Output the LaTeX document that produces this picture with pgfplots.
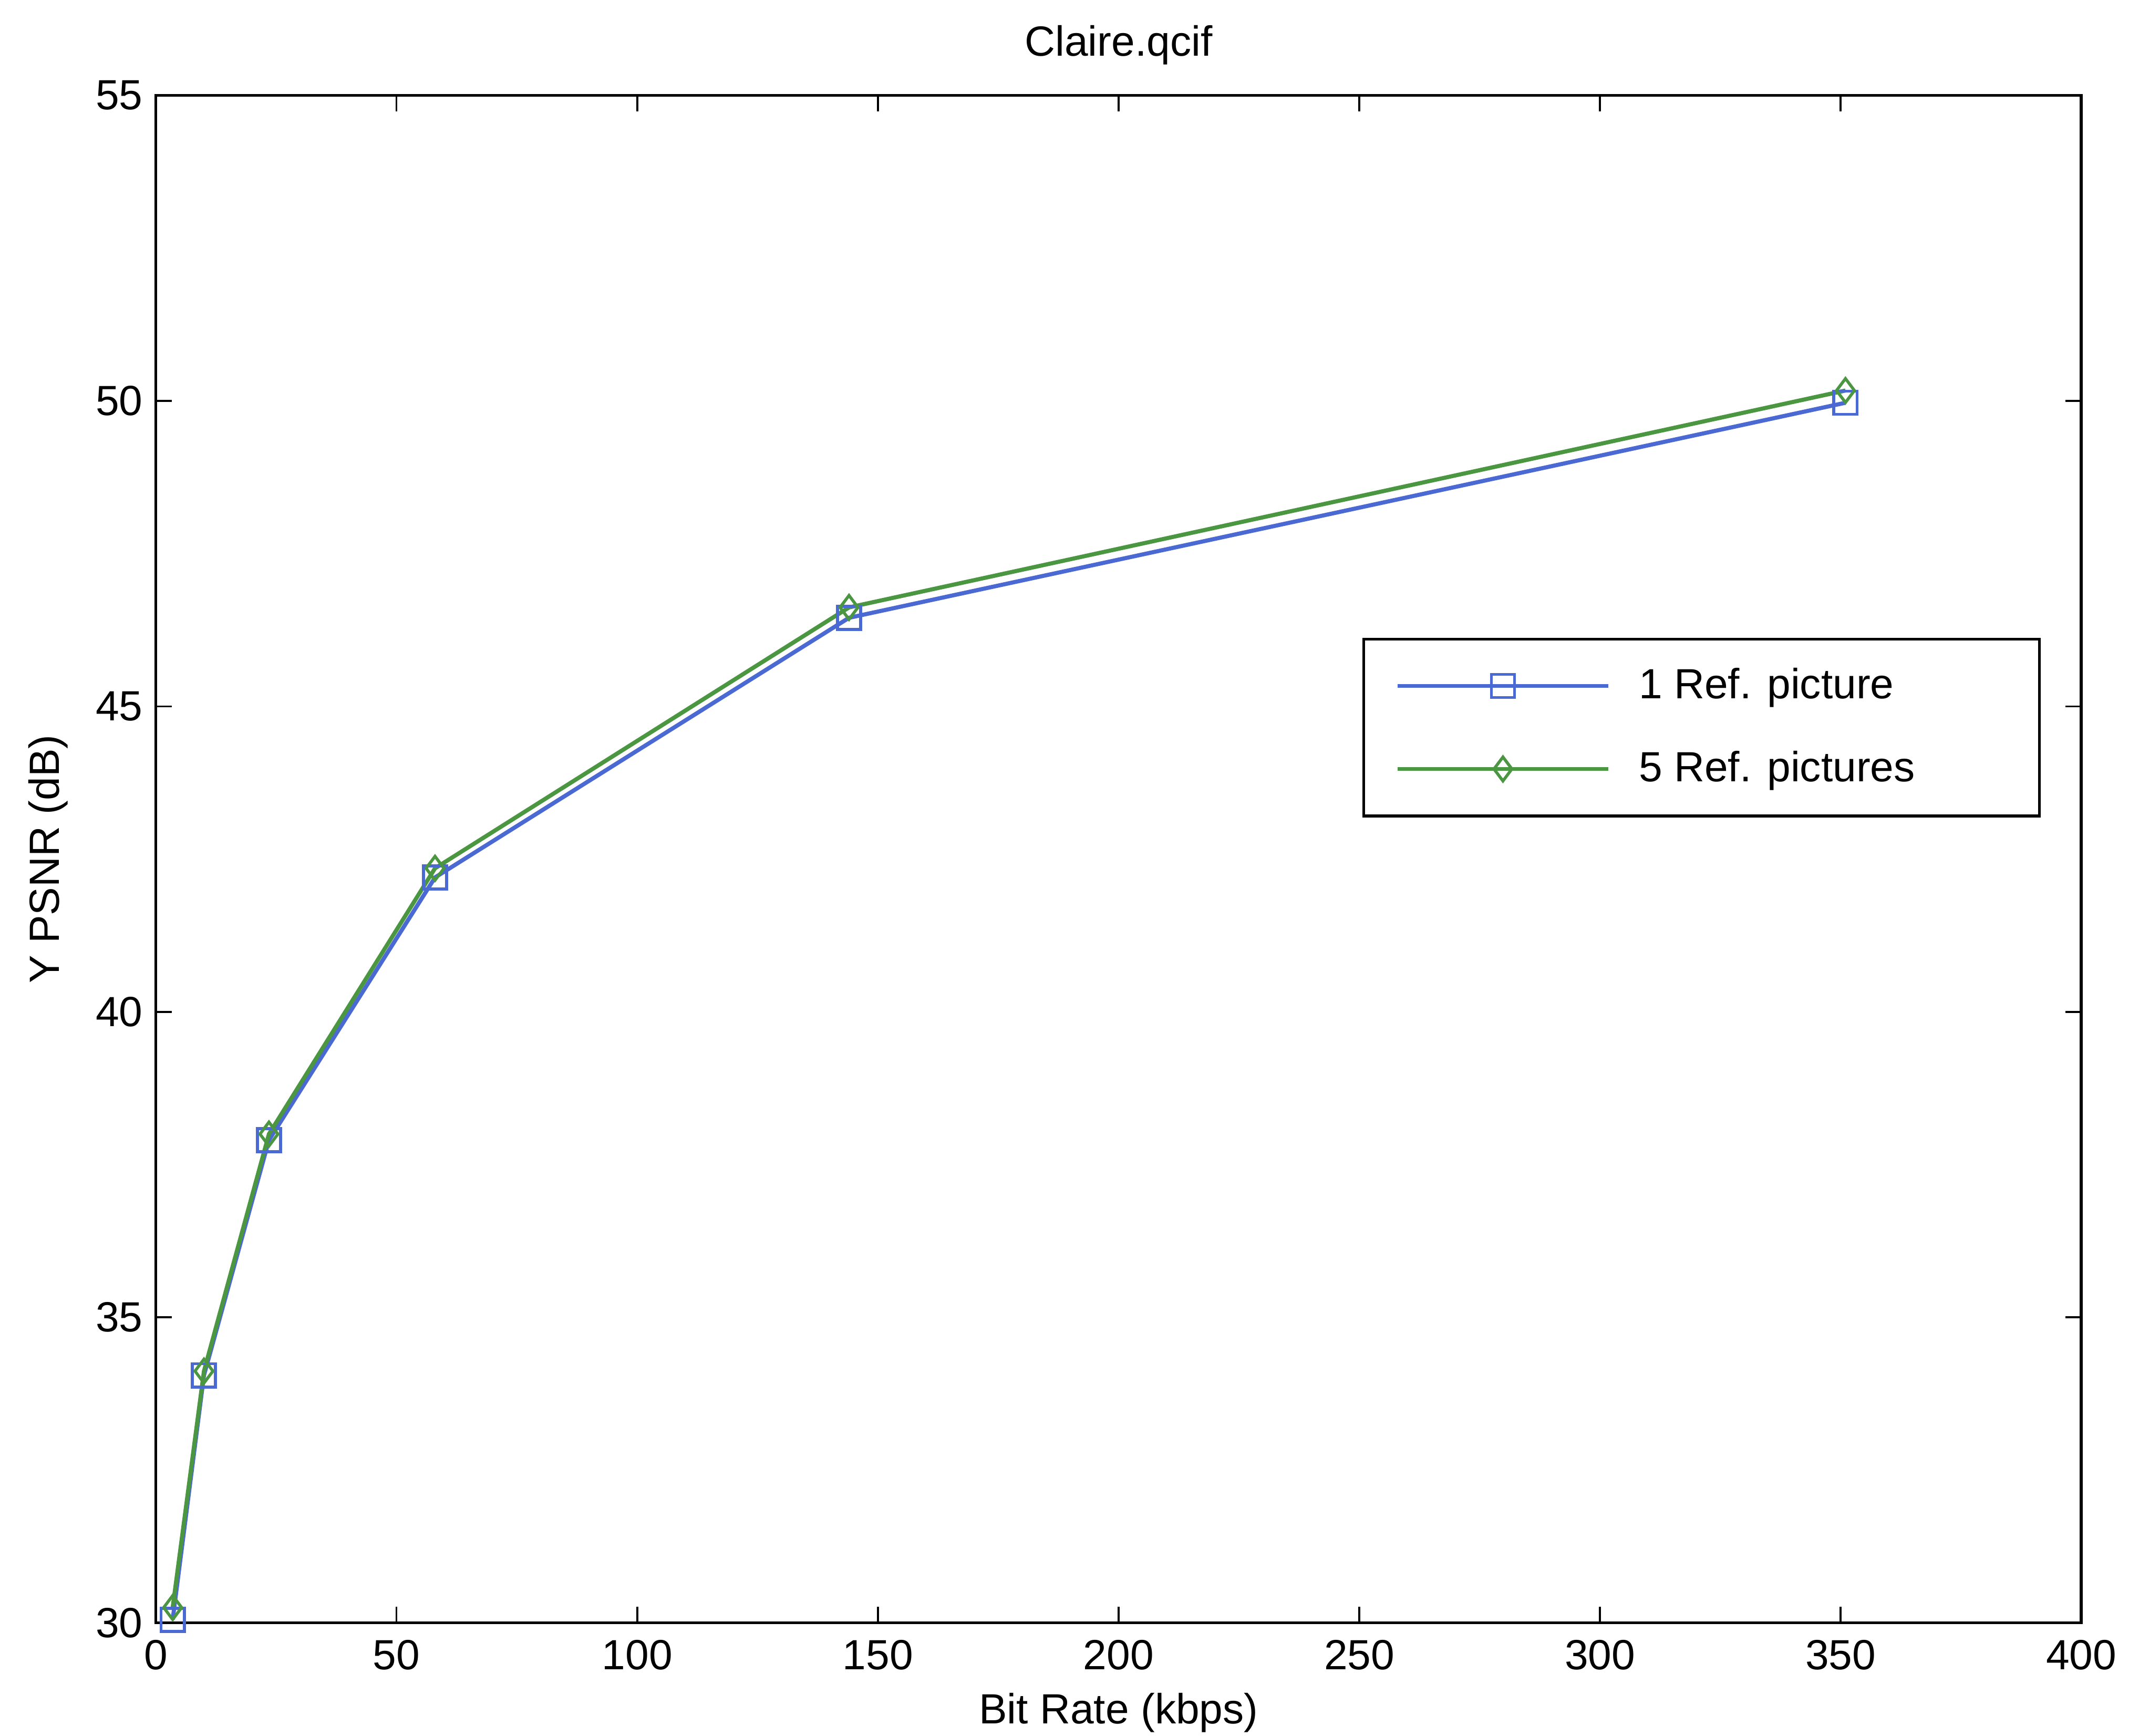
\documentclass[border=0pt]{standalone}
\usepackage{fontspec}
\setmainfont{Liberation Sans}
\usepackage{pgfplots}
\pgfplotsset{compat=1.18}
\definecolor{lblue}{RGB}{75,105,210}
\definecolor{lgreen}{RGB}{75,150,65}
\begin{document}
\begin{tikzpicture}
\path (-1.466cm,-1.061cm) rectangle (18.535cm,15.267cm);
\begin{axis}[
  at={(0,0)}, anchor=south west,
  width=18.115cm, height=14.369cm, scale only axis,
  xmin=0, xmax=400, ymin=30, ymax=55,
  xtick={0,50,...,400}, ytick={30,35,...,55},
  tick align=inside, major tick length=0.15cm,
  tick style={black, line width=0.5pt},
  axis line style={black, line width=0.8pt},
  font=\fontsize{11.3}{13.5}\selectfont,
  /pgf/number format/assume math mode=true,
  xticklabel style={yshift=-0.04cm},
  title={Claire.qcif},
  title style={at={(axis description cs:0.5,1)}, anchor=base, yshift=0.16cm},
  xlabel={Bit Rate (kbps)},
  xlabel style={at={(axis description cs:0.5,0)}, anchor=base, yshift=-0.95cm, inner sep=0pt},
  ylabel={Y PSNR (dB)},
  ylabel style={at={(axis description cs:-0.0502,0.5)}, anchor=base},
  legend cell align=left,
  legend style={at={(0.979,0.645)}, anchor=north east, draw=black, line width=0.8pt,
    inner xsep=0.3cm, inner ysep=0.2cm, row sep=0.3cm, column sep=0.2cm,
    font=\fontsize{11.3}{13.5}\selectfont},
  legend image code/.code={\draw[mark repeat=2,mark phase=2] plot coordinates {(0cm,0cm) (0.99cm,0cm) (1.98cm,0cm)};},
]
\addplot[color=lblue, line width=1.1pt, mark=square, mark size=3.1pt, mark options={solid, line width=0.8pt}]
  coordinates {(3.5,30.05) (10,34.05) (23.5,37.9) (58,42.2) (144,46.45) (351,49.97)};
\addlegendentry{1 Ref. picture}
\addplot[color=lgreen, line width=1.1pt, mark=diamond, mark size=3.2pt, mark options={solid, line width=0.8pt}]
  coordinates {(3.5,30.25) (10,34.12) (23.5,38.0) (58,42.35) (144,46.62) (351,50.17)};
\addlegendentry{5 Ref. pictures\hspace*{0.8cm}}
\end{axis}
\end{tikzpicture}
\end{document}
